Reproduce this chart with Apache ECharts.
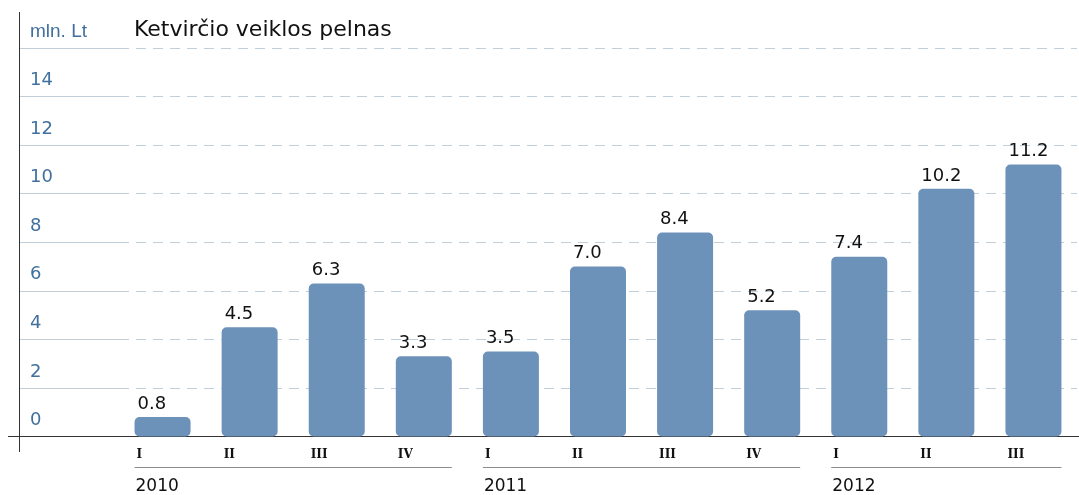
<!DOCTYPE html>
<html>
<head>
<meta charset="utf-8">
<script src="https://cdn.jsdelivr.net/npm/echarts@6/dist/echarts.min.js"></script>
<style>
  html, body { margin: 0; padding: 0; background: #fff; }
  #chart { width: 1079px; height: 495px; }
</style>
</head>
<body>
<div id="chart"></div>
<script>
// duomenys
const categories = ['2010 I', '2010 II', '2010 III', '2010 IV', '2011 I', '2011 II', '2011 III', '2011 IV', '2012 I', '2012 II', '2012 III']
const quarterLabels = ['I', 'II', 'III', 'IV', 'I', 'II', 'III', 'IV', 'I', 'II', 'III']
const profit = [0.8, 4.5, 6.3, 3.3, 3.5, 7.0, 8.4, 5.2, 7.4, 10.2, 11.2]
const years = ['2010', '2011', '2012']
const yearStart = [0, 4, 8]
const yearEnd = [3, 7, 10]
const yMin = 0
const yMax = 16
const yStep = 2
const unitLabel = 'mln. Lt'

const BAR_W = 56
const axisColor = '#333'
const gridColor = '#c0cfd9'
const labelBlue = '#41709d'

// metai po ketvirčiais: linija + užrašai
function renderYears(params, api) {
  const a = api.coord([api.value(0), 0])
  const b = api.coord([api.value(1), 0])
  const half = BAR_W / 2
  const x0 = a[0] - half
  const x1 = b[0] + half
  const y = a[1]
  const children = [
    { type: 'line', shape: { x1: x0, y1: y + 31, x2: x1, y2: y + 31 }, style: { stroke: '#8c8c8c', lineWidth: 1 } },
    { type: 'text', style: { text: years[params.dataIndex], x: x0 + 1, y: y + 42, font: '17px "DejaVu Sans"', fill: '#111', verticalAlign: 'top' } }
  ]
  for (let i = api.value(0); i <= api.value(1); i++) {
    const c = api.coord([i, 0])
    children.push({ type: 'text', style: { text: quarterLabels[i], x: c[0] - half + 2, y: y + 12, font: 'bold 12px "DejaVu Serif"', fill: '#111', verticalAlign: 'top' } })
  }
  return { type: 'group', children }
}

const chart = echarts.init(document.getElementById('chart'))

const option = {
  animation: false,
  backgroundColor: '#fff',
  title: {
    text: 'Ketvirčio veiklos pelnas',
    left: 129,
    top: 14,
    textStyle: { fontFamily: 'DejaVu Sans', fontSize: 22, fontWeight: 'normal', color: '#111' }
  },
  grid: [
    { left: 19, top: 48, width: 100, bottom: 58.5 },
    { left: 119, top: 48, right: 2, bottom: 58.5 }
  ],
  xAxis: [
    {
      gridIndex: 0, type: 'value', min: 0, max: 1,
      axisLine: { show: true, lineStyle: { color: axisColor } },
      axisTick: { show: false }, axisLabel: { show: false }, splitLine: { show: false }
    },
    {
      gridIndex: 1, type: 'category', data: categories,
      axisLine: { show: true, lineStyle: { color: axisColor } },
      axisTick: { show: false }, axisLabel: { show: false }
    }
  ],
  yAxis: [
    {
      gridIndex: 0, type: 'value', min: yMin, max: yMax, interval: yStep,
      axisLine: { show: true, lineStyle: { color: axisColor } },
      axisTick: { show: false },
      splitLine: { show: true, lineStyle: { color: gridColor, type: 'solid' } },
      axisLabel: {
        inside: true,
        margin: 11,
        align: 'left',
        verticalAlign: 'bottom',
        padding: [0, 0, 7, 0],
        color: labelBlue,
        fontFamily: 'DejaVu Sans',
        fontSize: 18,
        formatter: v => v === yMax ? '{u|' + unitLabel + '}' : String(v),
        rich: {
          u: { fontFamily: 'Liberation Sans', fontSize: 19, color: labelBlue }
        }
      }
    },
    {
      gridIndex: 1, type: 'value', min: yMin, max: yMax, interval: yStep,
      axisLine: { show: false }, axisTick: { show: false }, axisLabel: { show: false },
      splitLine: { show: true, lineStyle: { color: gridColor, type: [10, 7] } }
    }
  ],
  series: [
    {
      type: 'bar',
      xAxisIndex: 1,
      yAxisIndex: 1,
      data: profit,
      barWidth: BAR_W,
      itemStyle: { color: '#6d92b9', borderRadius: 5 },
      label: {
        show: true,
        position: [3, -4],
        align: 'left',
        verticalAlign: 'bottom',
        color: '#111',
        fontFamily: 'DejaVu Sans',
        fontSize: 18,
        formatter: p => p.value.toFixed(1)
      }
    },
    {
      type: 'custom',
      xAxisIndex: 1,
      yAxisIndex: 1,
      clip: false,
      silent: true,
      renderItem: renderYears,
      encode: { x: [0, 1], y: 2 },
      data: years.map((y, i) => [yearStart[i], yearEnd[i], 0])
    }
  ],
  // ašių pratęsimai (kryžius kampe)
  graphic: [
    { type: 'line', shape: { x1: 19.5, y1: 12, x2: 19.5, y2: 48 }, style: { stroke: axisColor, lineWidth: 1 } },
    { type: 'line', shape: { x1: 19.5, y1: 436.5, x2: 19.5, y2: 452 }, style: { stroke: axisColor, lineWidth: 1 } },
    { type: 'line', shape: { x1: 8, y1: 436.5, x2: 19.5, y2: 436.5 }, style: { stroke: axisColor, lineWidth: 1 } },
    { type: 'line', shape: { x1: 1076, y1: 436.5, x2: 1079, y2: 436.5 }, style: { stroke: axisColor, lineWidth: 1 } }
  ]
}

chart.setOption(option)
</script>
</body>
</html>
